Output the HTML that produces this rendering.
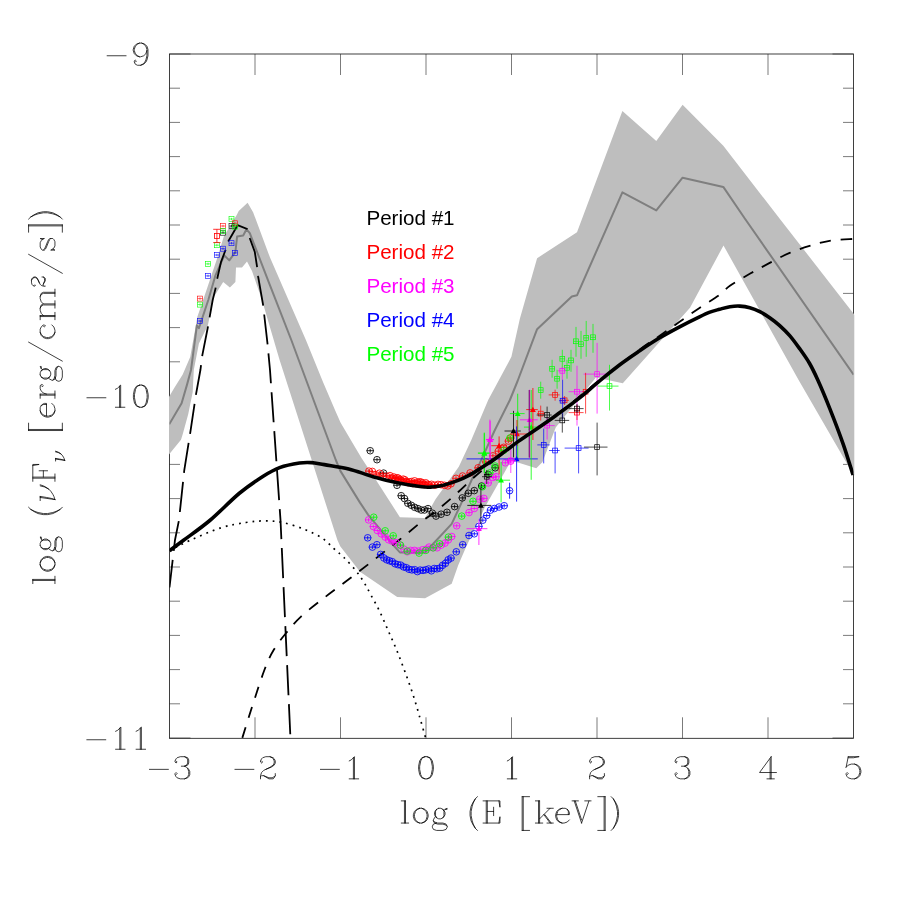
<!DOCTYPE html>
<html><head><meta charset="utf-8"><title>SED</title>
<style>
html,body{margin:0;padding:0;background:#fff;}
svg{display:block;}
.ser{font-family:"Liberation Serif",serif;font-size:33px;fill:#444;}
.leg{font-family:"Liberation Sans",sans-serif;font-size:20.6px;}
</style></head><body>
<svg width="913" height="903" viewBox="0 0 913 903">
<rect width="913" height="903" fill="#fff"/>
<defs><clipPath id="cp"><rect x="169.5" y="54.0" width="684.0" height="684.3"/></clipPath>
<filter id="idf" x="0" y="0" width="913" height="903" filterUnits="userSpaceOnUse"><feOffset dx="0" dy="0"/></filter>
<clipPath id="cb"><rect x="169" y="53" width="685.3" height="686"/></clipPath></defs>
<rect x="169.5" y="54.0" width="684.0" height="684.3" fill="none" stroke="#111" stroke-width="0.8"/>
<path d="M255.00,738.3V717.3M255.00,54.0V75.0M340.50,738.3V717.3M340.50,54.0V75.0M426.00,738.3V717.3M426.00,54.0V75.0M511.50,738.3V717.3M511.50,54.0V75.0M597.00,738.3V717.3M597.00,54.0V75.0M682.50,738.3V717.3M682.50,54.0V75.0M768.00,738.3V717.3M768.00,54.0V75.0M169.5,54.00H190.5M853.5,54.00H832.5M169.5,88.20H180.0M853.5,88.20H843.0M169.5,122.40H180.0M853.5,122.40H843.0M169.5,156.60H180.0M853.5,156.60H843.0M169.5,190.80H180.0M853.5,190.80H843.0M169.5,225.00H180.0M853.5,225.00H843.0M169.5,259.20H180.0M853.5,259.20H843.0M169.5,293.40H180.0M853.5,293.40H843.0M169.5,327.60H180.0M853.5,327.60H843.0M169.5,361.80H180.0M853.5,361.80H843.0M169.5,396.00H190.5M853.5,396.00H832.5M169.5,430.20H180.0M853.5,430.20H843.0M169.5,464.40H180.0M853.5,464.40H843.0M169.5,498.60H180.0M853.5,498.60H843.0M169.5,532.80H180.0M853.5,532.80H843.0M169.5,567.00H180.0M853.5,567.00H843.0M169.5,601.20H180.0M853.5,601.20H843.0M169.5,635.40H180.0M853.5,635.40H843.0M169.5,669.60H180.0M853.5,669.60H843.0M169.5,703.80H180.0M853.5,703.80H843.0M169.5,738.00H190.5M853.5,738.00H832.5" stroke="#222" stroke-width="0.6" fill="none"/>
<g clip-path="url(#cb)"><polygon points="168.0,398.5 169.2,396.6 174.4,387.7 182.7,374.4 190.2,357.0 197.4,316.7 207.7,286.4 217.6,257.0 223.8,236.5 237.0,214.4 238.7,211.0 247.6,202.8 253.1,212.2 270.0,257.6 305.9,340.0 323.2,382.5 335.2,410.4 340.5,422.4 351.1,440.5 361.8,458.5 376.0,480.0 399.9,517.2 425.1,517.9 435.5,499.2 458.8,466.7 471.2,440.3 488.2,400.0 511.4,356.8 519.8,318.9 537.1,258.2 577.0,232.3 622.4,111.1 656.3,141.0 682.6,104.7 723.3,145.8 780.7,220.0 855.0,315.4 855.0,476.0 852.4,473.0 798.6,380.0 723.5,245.5 690.0,307.7 622.8,383.2 595.9,377.6 555.7,427.6 542.5,462.0 536.3,468.2 511.5,460.5 506.8,468.2 485.0,507.0 466.3,546.4 458.3,565.0 451.7,583.7 425.1,598.3 397.2,596.9 360.0,571.7 340.2,546.2 337.4,540.0 279.6,360.0 262.0,300.0 252.0,270.9 247.0,261.5 242.0,267.6 236.0,267.6 235.4,282.0 229.9,287.5 223.2,282.0 213.8,297.0 207.8,325.5 198.9,343.5 193.8,370.0 192.7,392.1 188.2,414.3 182.7,434.2 181.0,439.8 169.2,454.2 168.0,455.5" fill="#bebebe"/></g>
<g clip-path="url(#cp)">
<polyline points="169.2,424.3 181.6,403.2 187.1,384.4 191.0,370.0 196.9,325.3 198.9,328.2 208.3,300.0 215.5,275.3 224.3,255.4 229.3,260.4 235.4,252.0 237.1,236.5 243.2,235.4 246.5,229.3 249.8,233.2 270.0,285.3 291.3,340.0 335.8,460.0 340.2,470.6 360.0,502.6 368.0,514.6 393.2,545.1 399.9,552.4 425.0,552.4 434.4,542.5 451.7,523.9 461.0,503.9 471.6,480.0 478.9,465.1 494.4,431.0 509.9,400.0 517.6,381.0 537.1,329.2 571.8,296.5 577.0,295.3 622.4,192.4 656.3,210.4 682.6,177.7 723.3,186.9 744.8,218.5 853.6,374.7" fill="none" stroke="#7f7f7f" stroke-width="2" stroke-linejoin="round"/>
<path d="M169.5,550.7 C173.0,548.9 182.1,543.8 190.7,540.0 C199.3,536.2 212.1,530.6 221.3,527.7 C230.5,524.8 238.7,523.6 245.9,522.5 C253.1,521.4 258.2,520.9 264.3,520.9 C270.4,520.9 276.1,521.1 282.7,522.5 C289.3,523.9 297.5,526.6 304.1,529.2 C310.7,531.8 317.4,535.0 322.4,538.3 C327.4,541.6 330.7,545.8 334.3,549.0 C337.9,552.2 340.2,553.8 343.8,557.4 C347.4,561.0 352.3,566.3 355.7,570.5 C359.1,574.7 361.4,578.2 364.0,582.4 C366.6,586.6 368.6,590.7 371.2,595.5 C373.8,600.3 376.7,605.2 379.5,611.0 C382.3,616.8 385.1,623.7 387.9,630.0 C390.7,636.3 393.4,642.2 396.2,649.0 C399.0,655.8 401.7,663.0 404.5,670.5 C407.3,678.0 410.3,686.4 412.9,694.3 C415.5,702.2 417.9,710.8 420.0,718.1 C422.1,725.4 424.8,734.9 425.7,738.3" fill="none" stroke="#000" stroke-width="1.7" stroke-dasharray="1.8 5.0"/>
<path d="M242.2,738.3 C243.8,733.1 248.3,718.3 252.0,707.0 C255.7,695.7 260.7,679.8 264.3,670.3 C267.9,660.8 269.9,656.4 273.5,650.3 C277.1,644.2 281.1,639.1 285.7,633.5 C290.3,627.9 294.4,622.7 301.0,616.6 C307.6,610.5 317.4,603.1 325.6,596.7 C333.8,590.3 341.9,584.5 350.1,578.3 C358.3,572.1 366.5,565.7 374.7,559.3 C382.9,552.9 391.0,546.5 399.2,540.0 C407.4,533.5 417.5,524.9 423.7,520.0 C429.9,515.1 430.6,515.5 436.4,510.8 C442.2,506.1 452.1,497.6 458.3,492.0 C464.5,486.4 467.6,483.0 473.8,477.5 C480.0,472.0 488.4,464.9 495.7,459.0 C503.0,453.1 512.1,446.1 517.6,442.0 C523.1,437.9 521.8,439.2 528.9,434.2 C536.0,429.2 548.2,421.0 560.0,412.0 C571.8,403.0 586.6,390.4 599.9,380.0 C613.2,369.6 629.7,356.9 639.7,349.5 C649.7,342.1 653.1,340.4 659.7,335.8 C666.4,331.2 673.0,326.5 679.6,321.8 C686.2,317.1 692.9,312.4 699.5,307.9 C706.1,303.4 714.4,298.6 719.5,294.9 C724.6,291.2 724.9,289.3 729.9,285.8 C734.9,282.3 743.2,277.6 749.8,273.8 C756.4,270.0 763.1,266.4 769.7,262.9 C776.4,259.4 783.1,255.7 789.7,252.9 C796.4,250.1 803.0,247.9 809.6,245.9 C816.2,243.9 822.2,242.1 829.5,240.9 C836.8,239.7 849.4,239.2 853.4,238.9" fill="none" stroke="#000" stroke-width="1.8" stroke-dasharray="11.3 9.75" stroke-dashoffset="-0.5"/>
<polyline points="228.2,241.5 226.0,248.7 221.0,262.0 217.1,279.2 215.5,288.6 212.7,300.0 207.8,327.5 202.3,355.4 200.4,370.0 196.0,394.4 190.2,433.1 184.3,470.0 179.0,520.0 175.0,540.0 169.5,587.5" fill="none" stroke="#000" stroke-width="1.8" stroke-dasharray="30.3 9.1" stroke-dashoffset="30.8"/>
<polyline points="228.2,241.5 237.6,225.2 247.0,229.0 249.8,238.2 254.8,252.0 257.0,266.4 258.1,276.4 263.1,305.0 267.6,344.5 270.0,370.0 280.5,520.0 290.3,734.7 290.5,738.3" fill="none" stroke="#000" stroke-width="1.8" stroke-dasharray="30.1 8.95" stroke-dashoffset="0.7"/>
<g stroke="#00ff00" stroke-width="0.6" fill="none"><rect x="229.0" y="216.5" width="5.0" height="5.0"/><path d="M229.0,219.0H234.0M231.5,217.8V220.2"/></g>
<g stroke="#ff0000" stroke-width="0.6" fill="none"><rect x="232.4" y="220.8" width="5.0" height="5.0"/><path d="M232.4,223.3H237.4M234.9,222.1V224.5"/></g>
<g stroke="#000" stroke-width="0.6" fill="none"><rect x="229.0" y="223.5" width="5.0" height="5.0"/><path d="M229.0,226.0H234.0M231.5,224.8V227.2"/></g>
<g stroke="#00ff00" stroke-width="0.6" fill="none"><rect x="232.4" y="224.1" width="5.0" height="5.0"/><path d="M232.4,226.6H237.4M234.9,225.4V227.8"/></g>
<g stroke="#ff0000" stroke-width="0.6" fill="none"><rect x="220.5" y="223.5" width="5.0" height="5.0"/><path d="M220.5,226.0H225.5M223.0,224.8V227.2"/></g>
<g stroke="#000" stroke-width="0.6" fill="none"><rect x="220.5" y="230.2" width="5.0" height="5.0"/><path d="M220.5,232.7H225.5M223.0,231.5V233.9"/></g>
<g stroke="#00ff00" stroke-width="0.6" fill="none"><rect x="220.5" y="228.5" width="5.0" height="5.0"/><path d="M220.5,231.0H225.5M223.0,229.8V232.2"/></g>
<g stroke="#00ff00" stroke-width="0.6" fill="none"><rect x="214.4" y="242.7" width="5.0" height="5.0"/><path d="M214.4,245.2H219.4M216.9,244.0V246.4"/></g>
<g stroke="#0000ff" stroke-width="0.6" fill="none"><rect x="229.0" y="240.7" width="5.0" height="5.0"/><path d="M229.0,243.2H234.0M231.5,242.0V244.4"/></g>
<g stroke="#0000ff" stroke-width="0.6" fill="none"><rect x="220.5" y="246.2" width="5.0" height="5.0"/><path d="M220.5,248.7H225.5M223.0,247.5V249.9"/></g>
<g stroke="#0000ff" stroke-width="0.6" fill="none"><rect x="232.4" y="250.4" width="5.0" height="5.0"/><path d="M232.4,252.9H237.4M234.9,251.7V254.1"/></g>
<g stroke="#0000ff" stroke-width="0.6" fill="none"><rect x="214.4" y="252.5" width="5.0" height="5.0"/><path d="M214.4,255.0H219.4M216.9,253.8V256.2"/></g>
<g stroke="#00ff00" stroke-width="0.6" fill="none"><rect x="205.5" y="261.4" width="5.0" height="5.0"/><path d="M205.5,263.9H210.5M208.0,262.7V265.1"/></g>
<g stroke="#0000ff" stroke-width="0.6" fill="none"><rect x="205.5" y="273.4" width="5.0" height="5.0"/><path d="M205.5,275.9H210.5M208.0,274.7V277.1"/></g>
<g stroke="#ff0000" stroke-width="0.6" fill="none"><rect x="197.5" y="296.1" width="5.0" height="5.0"/><path d="M197.5,298.6H202.5M200.0,297.4V299.8"/></g>
<g stroke="#00ff00" stroke-width="0.6" fill="none"><rect x="197.5" y="302.1" width="5.0" height="5.0"/><path d="M197.5,304.6H202.5M200.0,303.4V305.8"/></g>
<g stroke="#0000ff" stroke-width="0.6" fill="none"><rect x="197.5" y="318.5" width="5.0" height="5.0"/><path d="M197.5,321.0H202.5M200.0,319.8V322.2"/></g>
<g stroke="#ff0000" stroke-width="0.8" fill="none"><rect x="214.4" y="233.5" width="5" height="5"/><path d="M213.2,229.3H220.5M213.2,242.6H220.5M216.9,229.3V242.6"/></g>
<g stroke="#000" stroke-width="0.85" fill="none"><circle cx="370.2" cy="450.7" r="3.3"/><path d="M366.6,450.7H373.8M370.2,448.7V452.7"/></g>
<g stroke="#000" stroke-width="0.85" fill="none"><circle cx="377.0" cy="459.7" r="3.3"/><path d="M373.4,459.7H380.6M377.0,457.7V461.7"/></g>
<g stroke="#000" stroke-width="0.85" fill="none"><circle cx="383.6" cy="473.1" r="3.3"/><path d="M380.0,473.1H387.2M383.6,471.1V475.1"/></g>
<g stroke="#000" stroke-width="0.85" fill="none"><circle cx="397.0" cy="485.3" r="3.3"/><path d="M393.4,485.3H400.6M397.0,483.3V487.3"/></g>
<g stroke="#000" stroke-width="0.85" fill="none"><circle cx="401.2" cy="495.7" r="3.3"/><path d="M397.6,495.7H404.8M401.2,493.7V497.7"/></g>
<g stroke="#000" stroke-width="0.85" fill="none"><circle cx="404.5" cy="498.6" r="3.3"/><path d="M400.9,498.6H408.1M404.5,496.6V500.6"/></g>
<g stroke="#000" stroke-width="0.85" fill="none"><circle cx="407.8" cy="503.3" r="3.3"/><path d="M404.2,503.3H411.4M407.8,501.3V505.3"/></g>
<g stroke="#000" stroke-width="0.85" fill="none"><circle cx="411.3" cy="505.3" r="3.3"/><path d="M407.7,505.3H414.9M411.3,503.3V507.3"/></g>
<g stroke="#000" stroke-width="0.85" fill="none"><circle cx="414.6" cy="507.3" r="3.3"/><path d="M411.0,507.3H418.2M414.6,505.3V509.3"/></g>
<g stroke="#000" stroke-width="0.85" fill="none"><circle cx="418.0" cy="508.6" r="3.3"/><path d="M414.4,508.6H421.6M418.0,506.6V510.6"/></g>
<g stroke="#000" stroke-width="0.85" fill="none"><circle cx="421.2" cy="510.0" r="3.3"/><path d="M417.6,510.0H424.8M421.2,508.0V512.0"/></g>
<g stroke="#000" stroke-width="0.85" fill="none"><circle cx="424.5" cy="510.0" r="3.3"/><path d="M420.9,510.0H428.1M424.5,508.0V512.0"/></g>
<g stroke="#000" stroke-width="0.85" fill="none"><circle cx="428.0" cy="508.6" r="3.3"/><path d="M424.4,508.6H431.6M428.0,506.6V510.6"/></g>
<g stroke="#000" stroke-width="0.85" fill="none"><circle cx="432.4" cy="513.2" r="3.3"/><path d="M428.8,513.2H436.0M432.4,511.2V515.2"/></g>
<g stroke="#000" stroke-width="0.85" fill="none"><circle cx="436.0" cy="516.1" r="3.3"/><path d="M432.4,516.1H439.6M436.0,514.1V518.1"/></g>
<g stroke="#000" stroke-width="0.85" fill="none"><circle cx="441.1" cy="514.2" r="3.3"/><path d="M437.5,514.2H444.7M441.1,512.2V516.2"/></g>
<g stroke="#000" stroke-width="0.85" fill="none"><circle cx="447.0" cy="512.3" r="3.3"/><path d="M443.4,512.3H450.6M447.0,510.3V514.3"/></g>
<g stroke="#000" stroke-width="0.85" fill="none"><circle cx="454.6" cy="506.6" r="3.3"/><path d="M451.0,506.6H458.2M454.6,504.6V508.6"/></g>
<g stroke="#000" stroke-width="0.85" fill="none"><circle cx="462.3" cy="497.9" r="3.3"/><path d="M458.7,497.9H465.9M462.3,495.9V499.9"/></g>
<g stroke="#000" stroke-width="0.85" fill="none"><circle cx="468.3" cy="493.3" r="3.3"/><path d="M464.7,493.3H471.9M468.3,491.3V495.3"/></g>
<g stroke="#000" stroke-width="0.85" fill="none"><circle cx="474.3" cy="490.6" r="3.3"/><path d="M470.7,490.6H477.9M474.3,488.6V492.6"/></g>
<g stroke="#000" stroke-width="0.85" fill="none"><circle cx="481.6" cy="486.0" r="3.3"/><path d="M478.0,486.0H485.2M481.6,484.0V488.0"/></g>
<g stroke="#000" stroke-width="0.85" fill="none"><circle cx="488.2" cy="474.4" r="3.3"/><path d="M484.6,474.4H491.8M488.2,472.4V476.4"/></g>
<g stroke="#000" stroke-width="0.85" fill="none"><circle cx="495.2" cy="467.8" r="3.3"/><path d="M491.6,467.8H498.8M495.2,465.8V469.8"/></g>
<g stroke="#ff0000" stroke-width="0.85" fill="none"><circle cx="368.9" cy="471.1" r="3.3"/><path d="M365.3,471.1H372.5M368.9,469.1V473.1"/></g>
<g stroke="#ff0000" stroke-width="0.85" fill="none"><circle cx="372.4" cy="471.4" r="3.3"/><path d="M368.8,471.4H376.0M372.4,469.4V473.4"/></g>
<g stroke="#ff0000" stroke-width="0.85" fill="none"><circle cx="375.9" cy="474.8" r="3.3"/><path d="M372.3,474.8H379.5M375.9,472.8V476.8"/></g>
<g stroke="#ff0000" stroke-width="0.85" fill="none"><circle cx="379.4" cy="473.2" r="3.3"/><path d="M375.8,473.2H383.1M379.4,471.2V475.2"/></g>
<g stroke="#ff0000" stroke-width="0.85" fill="none"><circle cx="383.0" cy="476.2" r="3.3"/><path d="M379.4,476.2H386.6M383.0,474.2V478.2"/></g>
<g stroke="#ff0000" stroke-width="0.85" fill="none"><circle cx="386.5" cy="476.2" r="3.3"/><path d="M382.9,476.2H390.1M386.5,474.2V478.2"/></g>
<g stroke="#ff0000" stroke-width="0.85" fill="none"><circle cx="390.0" cy="475.6" r="3.3"/><path d="M386.4,475.6H393.6M390.0,473.6V477.6"/></g>
<g stroke="#ff0000" stroke-width="0.85" fill="none"><circle cx="392.0" cy="478.0" r="3.3"/><path d="M388.4,478.0H395.6M392.0,476.0V480.0"/></g>
<g stroke="#ff0000" stroke-width="0.85" fill="none"><circle cx="393.6" cy="476.9" r="3.3"/><path d="M390.0,476.9H397.2M393.6,474.9V478.9"/></g>
<g stroke="#ff0000" stroke-width="0.85" fill="none"><circle cx="395.2" cy="478.5" r="3.3"/><path d="M391.6,478.5H398.8M395.2,476.5V480.5"/></g>
<g stroke="#ff0000" stroke-width="0.85" fill="none"><circle cx="396.8" cy="477.7" r="3.3"/><path d="M393.2,477.7H400.4M396.8,475.7V479.7"/></g>
<g stroke="#ff0000" stroke-width="0.85" fill="none"><circle cx="398.4" cy="478.1" r="3.3"/><path d="M394.8,478.1H402.0M398.4,476.1V480.1"/></g>
<g stroke="#ff0000" stroke-width="0.85" fill="none"><circle cx="400.0" cy="479.5" r="3.3"/><path d="M396.4,479.5H403.6M400.0,477.5V481.5"/></g>
<g stroke="#ff0000" stroke-width="0.85" fill="none"><circle cx="401.7" cy="481.1" r="3.3"/><path d="M398.1,481.1H405.3M401.7,479.1V483.1"/></g>
<g stroke="#ff0000" stroke-width="0.85" fill="none"><circle cx="403.3" cy="479.1" r="3.3"/><path d="M399.7,479.1H406.9M403.3,477.1V481.1"/></g>
<g stroke="#ff0000" stroke-width="0.85" fill="none"><circle cx="404.9" cy="479.8" r="3.3"/><path d="M401.3,479.8H408.5M404.9,477.8V481.8"/></g>
<g stroke="#ff0000" stroke-width="0.85" fill="none"><circle cx="406.5" cy="481.4" r="3.3"/><path d="M402.9,481.4H410.1M406.5,479.4V483.4"/></g>
<g stroke="#ff0000" stroke-width="0.85" fill="none"><circle cx="408.1" cy="482.7" r="3.3"/><path d="M404.5,482.7H411.7M408.1,480.7V484.7"/></g>
<g stroke="#ff0000" stroke-width="0.85" fill="none"><circle cx="409.7" cy="481.9" r="3.3"/><path d="M406.1,481.9H413.3M409.7,479.9V483.9"/></g>
<g stroke="#ff0000" stroke-width="0.85" fill="none"><circle cx="411.3" cy="481.5" r="3.3"/><path d="M407.7,481.5H414.9M411.3,479.5V483.5"/></g>
<g stroke="#ff0000" stroke-width="0.85" fill="none"><circle cx="412.9" cy="483.6" r="3.3"/><path d="M409.3,483.6H416.5M412.9,481.6V485.6"/></g>
<g stroke="#ff0000" stroke-width="0.85" fill="none"><circle cx="414.5" cy="480.8" r="3.3"/><path d="M410.9,480.8H418.1M414.5,478.8V482.8"/></g>
<g stroke="#ff0000" stroke-width="0.85" fill="none"><circle cx="416.1" cy="483.7" r="3.3"/><path d="M412.5,483.7H419.7M416.1,481.7V485.7"/></g>
<g stroke="#ff0000" stroke-width="0.85" fill="none"><circle cx="417.7" cy="482.1" r="3.3"/><path d="M414.1,482.1H421.3M417.7,480.1V484.1"/></g>
<g stroke="#ff0000" stroke-width="0.85" fill="none"><circle cx="419.3" cy="481.8" r="3.3"/><path d="M415.7,481.8H422.9M419.3,479.8V483.8"/></g>
<g stroke="#ff0000" stroke-width="0.85" fill="none"><circle cx="421.0" cy="482.0" r="3.3"/><path d="M417.4,482.0H424.6M421.0,480.0V484.0"/></g>
<g stroke="#ff0000" stroke-width="0.85" fill="none"><circle cx="422.6" cy="482.8" r="3.3"/><path d="M419.0,482.8H426.2M422.6,480.8V484.8"/></g>
<g stroke="#ff0000" stroke-width="0.85" fill="none"><circle cx="424.2" cy="484.6" r="3.3"/><path d="M420.6,484.6H427.8M424.2,482.6V486.6"/></g>
<g stroke="#ff0000" stroke-width="0.85" fill="none"><circle cx="425.8" cy="482.8" r="3.3"/><path d="M422.2,482.8H429.4M425.8,480.8V484.8"/></g>
<g stroke="#ff0000" stroke-width="0.85" fill="none"><circle cx="427.4" cy="484.3" r="3.3"/><path d="M423.8,484.3H431.0M427.4,482.3V486.3"/></g>
<g stroke="#ff0000" stroke-width="0.85" fill="none"><circle cx="429.0" cy="484.7" r="3.3"/><path d="M425.4,484.7H432.6M429.0,482.7V486.7"/></g>
<g stroke="#ff0000" stroke-width="0.85" fill="none"><circle cx="431.5" cy="484.3" r="3.3"/><path d="M427.9,484.3H435.1M431.5,482.3V486.3"/></g>
<g stroke="#ff0000" stroke-width="0.85" fill="none"><circle cx="434.8" cy="485.2" r="3.3"/><path d="M431.1,485.2H438.4M434.8,483.2V487.2"/></g>
<g stroke="#ff0000" stroke-width="0.85" fill="none"><circle cx="438.0" cy="484.4" r="3.3"/><path d="M434.4,484.4H441.6M438.0,482.4V486.4"/></g>
<g stroke="#ff0000" stroke-width="0.85" fill="none"><circle cx="441.2" cy="484.7" r="3.3"/><path d="M437.6,484.7H444.9M441.2,482.7V486.7"/></g>
<g stroke="#ff0000" stroke-width="0.85" fill="none"><circle cx="444.5" cy="485.3" r="3.3"/><path d="M440.9,485.3H448.1M444.5,483.3V487.3"/></g>
<g stroke="#ff0000" stroke-width="0.85" fill="none"><circle cx="447.8" cy="485.9" r="3.3"/><path d="M444.1,485.9H451.4M447.8,483.9V487.9"/></g>
<g stroke="#ff0000" stroke-width="0.85" fill="none"><circle cx="451.0" cy="483.8" r="3.3"/><path d="M447.4,483.8H454.6M451.0,481.8V485.8"/></g>
<g stroke="#ff0000" stroke-width="0.85" fill="none"><circle cx="456.0" cy="478.3" r="3.3"/><path d="M452.4,478.3H459.6M456.0,476.3V480.3"/></g>
<g stroke="#ff0000" stroke-width="0.85" fill="none"><circle cx="462.6" cy="476.0" r="3.3"/><path d="M459.0,476.0H466.2M462.6,474.0V478.0"/></g>
<g stroke="#ff0000" stroke-width="0.85" fill="none"><circle cx="470.1" cy="472.9" r="3.3"/><path d="M466.5,472.9H473.7M470.1,470.9V474.9"/></g>
<g stroke="#ff0000" stroke-width="0.85" fill="none"><circle cx="478.1" cy="467.8" r="3.3"/><path d="M474.5,467.8H481.7M478.1,465.8V469.8"/></g>
<g stroke="#ff0000" stroke-width="0.85" fill="none"><circle cx="485.9" cy="462.0" r="3.3"/><path d="M482.3,462.0H489.5M485.9,460.0V464.0"/></g>
<g stroke="#ff0000" stroke-width="0.85" fill="none"><circle cx="492.9" cy="455.8" r="3.3"/><path d="M489.3,455.8H496.5M492.9,453.8V457.8"/></g>
<g stroke="#ff0000" stroke-width="0.85" fill="none"><circle cx="498.3" cy="451.2" r="3.3"/><path d="M494.7,451.2H501.9M498.3,449.2V453.2"/></g>
<g stroke="#ff0000" stroke-width="0.85" fill="none"><circle cx="503.7" cy="447.3" r="3.3"/><path d="M500.1,447.3H507.3M503.7,445.3V449.3"/></g>
<g stroke="#ff0000" stroke-width="0.85" fill="none"><circle cx="508.4" cy="441.1" r="3.3"/><path d="M504.8,441.1H512.0M508.4,439.1V443.1"/></g>
<g stroke="#ff0000" stroke-width="0.85" fill="none"><circle cx="510.7" cy="438.0" r="3.3"/><path d="M507.1,438.0H514.3M510.7,436.0V440.0"/></g>
<g stroke="#ff00ff" stroke-width="0.85" fill="none"><circle cx="368.6" cy="519.9" r="3.3"/><path d="M365.0,519.9H372.2M368.6,517.9V521.9"/></g>
<g stroke="#ff00ff" stroke-width="0.85" fill="none"><circle cx="373.3" cy="526.5" r="3.3"/><path d="M369.7,526.5H376.9M373.3,524.5V528.5"/></g>
<g stroke="#ff00ff" stroke-width="0.85" fill="none"><circle cx="377.3" cy="530.5" r="3.3"/><path d="M373.7,530.5H380.9M377.3,528.5V532.5"/></g>
<g stroke="#ff00ff" stroke-width="0.85" fill="none"><circle cx="381.3" cy="533.8" r="3.3"/><path d="M377.7,533.8H384.9M381.3,531.8V535.8"/></g>
<g stroke="#ff00ff" stroke-width="0.85" fill="none"><circle cx="385.2" cy="537.1" r="3.3"/><path d="M381.6,537.1H388.8M385.2,535.1V539.1"/></g>
<g stroke="#ff00ff" stroke-width="0.85" fill="none"><circle cx="388.6" cy="539.8" r="3.3"/><path d="M385.0,539.8H392.2M388.6,537.8V541.8"/></g>
<g stroke="#ff00ff" stroke-width="0.85" fill="none"><circle cx="391.9" cy="541.1" r="3.3"/><path d="M388.3,541.1H395.5M391.9,539.1V543.1"/></g>
<g stroke="#ff00ff" stroke-width="0.85" fill="none"><circle cx="395.9" cy="542.5" r="3.3"/><path d="M392.3,542.5H399.5M395.9,540.5V544.5"/></g>
<g stroke="#ff00ff" stroke-width="0.85" fill="none"><circle cx="399.9" cy="545.1" r="3.3"/><path d="M396.3,545.1H403.5M399.9,543.1V547.1"/></g>
<g stroke="#ff00ff" stroke-width="0.85" fill="none"><circle cx="403.9" cy="549.1" r="3.3"/><path d="M400.3,549.1H407.5M403.9,547.1V551.1"/></g>
<g stroke="#ff00ff" stroke-width="0.85" fill="none"><circle cx="407.2" cy="551.8" r="3.3"/><path d="M403.6,551.8H410.8M407.2,549.8V553.8"/></g>
<g stroke="#ff00ff" stroke-width="0.85" fill="none"><circle cx="410.5" cy="550.4" r="3.3"/><path d="M406.9,550.4H414.1M410.5,548.4V552.4"/></g>
<g stroke="#ff00ff" stroke-width="0.85" fill="none"><circle cx="414.5" cy="550.4" r="3.3"/><path d="M410.9,550.4H418.1M414.5,548.4V552.4"/></g>
<g stroke="#ff00ff" stroke-width="0.85" fill="none"><circle cx="418.5" cy="551.1" r="3.3"/><path d="M414.9,551.1H422.1M418.5,549.1V553.1"/></g>
<g stroke="#ff00ff" stroke-width="0.85" fill="none"><circle cx="422.5" cy="549.8" r="3.3"/><path d="M418.9,549.8H426.1M422.5,547.8V551.8"/></g>
<g stroke="#ff00ff" stroke-width="0.85" fill="none"><circle cx="426.4" cy="549.1" r="3.3"/><path d="M422.8,549.1H430.0M426.4,547.1V551.1"/></g>
<g stroke="#ff00ff" stroke-width="0.85" fill="none"><circle cx="429.1" cy="547.1" r="3.3"/><path d="M425.5,547.1H432.7M429.1,545.1V549.1"/></g>
<g stroke="#ff00ff" stroke-width="0.85" fill="none"><circle cx="433.1" cy="547.8" r="3.3"/><path d="M429.5,547.8H436.7M433.1,545.8V549.8"/></g>
<g stroke="#ff00ff" stroke-width="0.85" fill="none"><circle cx="437.1" cy="547.8" r="3.3"/><path d="M433.5,547.8H440.7M437.1,545.8V549.8"/></g>
<g stroke="#ff00ff" stroke-width="0.85" fill="none"><circle cx="441.1" cy="545.1" r="3.3"/><path d="M437.5,545.1H444.7M441.1,543.1V547.1"/></g>
<g stroke="#ff00ff" stroke-width="0.85" fill="none"><circle cx="445.0" cy="543.1" r="3.3"/><path d="M441.4,543.1H448.6M445.0,541.1V545.1"/></g>
<g stroke="#ff00ff" stroke-width="0.85" fill="none"><circle cx="448.4" cy="539.8" r="3.3"/><path d="M444.8,539.8H452.0M448.4,537.8V541.8"/></g>
<g stroke="#ff00ff" stroke-width="0.85" fill="none"><circle cx="451.7" cy="536.5" r="3.3"/><path d="M448.1,536.5H455.3M451.7,534.5V538.5"/></g>
<g stroke="#ff00ff" stroke-width="0.85" fill="none"><circle cx="456.7" cy="525.8" r="3.3"/><path d="M453.1,525.8H460.3M456.7,523.8V527.8"/></g>
<g stroke="#ff00ff" stroke-width="0.85" fill="none"><circle cx="469.0" cy="512.6" r="3.3"/><path d="M465.4,512.6H472.6M469.0,510.6V514.6"/></g>
<g stroke="#ff00ff" stroke-width="0.85" fill="none"><circle cx="474.3" cy="508.5" r="3.3"/><path d="M470.7,508.5H477.9M474.3,506.5V510.5"/></g>
<g stroke="#ff00ff" stroke-width="0.85" fill="none"><circle cx="479.7" cy="499.2" r="3.3"/><path d="M476.1,499.2H483.3M479.7,497.2V501.2"/></g>
<g stroke="#ff00ff" stroke-width="0.85" fill="none"><circle cx="483.9" cy="498.4" r="3.3"/><path d="M480.3,498.4H487.5M483.9,496.4V500.4"/></g>
<g stroke="#ff00ff" stroke-width="0.85" fill="none"><circle cx="488.2" cy="482.9" r="3.3"/><path d="M484.6,482.9H491.8M488.2,480.9V484.9"/></g>
<g stroke="#ff00ff" stroke-width="0.85" fill="none"><circle cx="492.9" cy="477.5" r="3.3"/><path d="M489.3,477.5H496.5M492.9,475.5V479.5"/></g>
<g stroke="#ff00ff" stroke-width="0.85" fill="none"><circle cx="496.0" cy="476.7" r="3.3"/><path d="M492.4,476.7H499.6M496.0,474.7V478.7"/></g>
<g stroke="#ff00ff" stroke-width="0.85" fill="none"><circle cx="505.3" cy="462.8" r="3.3"/><path d="M501.7,462.8H508.9M505.3,460.8V464.8"/></g>
<g stroke="#ff00ff" stroke-width="0.85" fill="none"><circle cx="510.7" cy="461.2" r="3.3"/><path d="M507.1,461.2H514.3M510.7,459.2V463.2"/></g>
<g stroke="#00ff00" stroke-width="0.85" fill="none"><circle cx="373.7" cy="517.2" r="3.3"/><path d="M370.1,517.2H377.3M373.7,515.2V519.2"/></g>
<g stroke="#00ff00" stroke-width="0.85" fill="none"><circle cx="385.2" cy="530.8" r="3.3"/><path d="M381.6,530.8H388.8M385.2,528.8V532.8"/></g>
<g stroke="#00ff00" stroke-width="0.85" fill="none"><circle cx="393.2" cy="535.8" r="3.3"/><path d="M389.6,535.8H396.8M393.2,533.8V537.8"/></g>
<g stroke="#00ff00" stroke-width="0.85" fill="none"><circle cx="400.5" cy="545.1" r="3.3"/><path d="M396.9,545.1H404.1M400.5,543.1V547.1"/></g>
<g stroke="#00ff00" stroke-width="0.85" fill="none"><circle cx="407.2" cy="551.1" r="3.3"/><path d="M403.6,551.1H410.8M407.2,549.1V553.1"/></g>
<g stroke="#00ff00" stroke-width="0.85" fill="none"><circle cx="419.1" cy="553.1" r="3.3"/><path d="M415.5,553.1H422.7M419.1,551.1V555.1"/></g>
<g stroke="#00ff00" stroke-width="0.85" fill="none"><circle cx="425.8" cy="550.4" r="3.3"/><path d="M422.2,550.4H429.4M425.8,548.4V552.4"/></g>
<g stroke="#00ff00" stroke-width="0.85" fill="none"><circle cx="433.1" cy="547.8" r="3.3"/><path d="M429.5,547.8H436.7M433.1,545.8V549.8"/></g>
<g stroke="#00ff00" stroke-width="0.85" fill="none"><circle cx="439.7" cy="543.8" r="3.3"/><path d="M436.1,543.8H443.3M439.7,541.8V545.8"/></g>
<g stroke="#00ff00" stroke-width="0.85" fill="none"><circle cx="448.4" cy="537.1" r="3.3"/><path d="M444.8,537.1H452.0M448.4,535.1V539.1"/></g>
<g stroke="#00ff00" stroke-width="0.85" fill="none"><circle cx="461.7" cy="516.1" r="3.3"/><path d="M458.1,516.1H465.3M461.7,514.1V518.1"/></g>
<g stroke="#00ff00" stroke-width="0.85" fill="none"><circle cx="473.0" cy="501.3" r="3.3"/><path d="M469.4,501.3H476.6M473.0,499.3V503.3"/></g>
<g stroke="#00ff00" stroke-width="0.85" fill="none"><circle cx="482.5" cy="486.8" r="3.3"/><path d="M478.9,486.8H486.1M482.5,484.8V488.8"/></g>
<g stroke="#00ff00" stroke-width="0.85" fill="none"><circle cx="489.8" cy="472.9" r="3.3"/><path d="M486.2,472.9H493.4M489.8,470.9V474.9"/></g>
<g stroke="#00ff00" stroke-width="0.85" fill="none"><circle cx="495.0" cy="466.0" r="3.3"/><path d="M491.4,466.0H498.6M495.0,464.0V468.0"/></g>
<g stroke="#00ff00" stroke-width="0.85" fill="none"><circle cx="503.7" cy="450.4" r="3.3"/><path d="M500.1,450.4H507.3M503.7,448.4V452.4"/></g>
<g stroke="#00ff00" stroke-width="0.85" fill="none"><circle cx="509.9" cy="438.0" r="3.3"/><path d="M506.3,438.0H513.5M509.9,436.0V440.0"/></g>
<g stroke="#0000ff" stroke-width="0.85" fill="none"><circle cx="367.7" cy="537.8" r="3.3"/><path d="M364.1,537.8H371.3M367.7,535.8V539.8"/></g>
<g stroke="#0000ff" stroke-width="0.85" fill="none"><circle cx="372.4" cy="547.1" r="3.3"/><path d="M368.8,547.1H376.0M372.4,545.1V549.1"/></g>
<g stroke="#0000ff" stroke-width="0.85" fill="none"><circle cx="376.9" cy="544.7" r="3.3"/><path d="M373.3,544.7H380.5M376.9,542.7V546.7"/></g>
<g stroke="#0000ff" stroke-width="0.85" fill="none"><circle cx="380.6" cy="554.4" r="3.3"/><path d="M377.0,554.4H384.2M380.6,552.4V556.4"/></g>
<g stroke="#0000ff" stroke-width="0.85" fill="none"><circle cx="383.9" cy="558.0" r="3.3"/><path d="M380.3,558.0H387.5M383.9,556.0V560.0"/></g>
<g stroke="#0000ff" stroke-width="0.85" fill="none"><circle cx="386.7" cy="559.8" r="3.3"/><path d="M383.1,559.8H390.3M386.7,557.8V561.8"/></g>
<g stroke="#0000ff" stroke-width="0.85" fill="none"><circle cx="389.5" cy="560.8" r="3.3"/><path d="M385.9,560.8H393.1M389.5,558.8V562.8"/></g>
<g stroke="#0000ff" stroke-width="0.85" fill="none"><circle cx="392.3" cy="561.7" r="3.3"/><path d="M388.7,561.7H395.9M392.3,559.7V563.7"/></g>
<g stroke="#0000ff" stroke-width="0.85" fill="none"><circle cx="395.1" cy="563.8" r="3.3"/><path d="M391.5,563.8H398.7M395.1,561.8V565.8"/></g>
<g stroke="#0000ff" stroke-width="0.85" fill="none"><circle cx="397.9" cy="564.7" r="3.3"/><path d="M394.3,564.7H401.5M397.9,562.7V566.7"/></g>
<g stroke="#0000ff" stroke-width="0.85" fill="none"><circle cx="400.7" cy="565.1" r="3.3"/><path d="M397.1,565.1H404.3M400.7,563.1V567.1"/></g>
<g stroke="#0000ff" stroke-width="0.85" fill="none"><circle cx="403.5" cy="566.9" r="3.3"/><path d="M399.9,566.9H407.1M403.5,564.9V568.9"/></g>
<g stroke="#0000ff" stroke-width="0.85" fill="none"><circle cx="406.3" cy="567.7" r="3.3"/><path d="M402.7,567.7H409.9M406.3,565.7V569.7"/></g>
<g stroke="#0000ff" stroke-width="0.85" fill="none"><circle cx="409.1" cy="569.3" r="3.3"/><path d="M405.5,569.3H412.7M409.1,567.3V571.3"/></g>
<g stroke="#0000ff" stroke-width="0.85" fill="none"><circle cx="411.9" cy="569.9" r="3.3"/><path d="M408.3,569.9H415.5M411.9,567.9V571.9"/></g>
<g stroke="#0000ff" stroke-width="0.85" fill="none"><circle cx="414.7" cy="569.7" r="3.3"/><path d="M411.1,569.7H418.3M414.7,567.7V571.7"/></g>
<g stroke="#0000ff" stroke-width="0.85" fill="none"><circle cx="417.4" cy="571.6" r="3.3"/><path d="M413.8,571.6H421.1M417.4,569.6V573.6"/></g>
<g stroke="#0000ff" stroke-width="0.85" fill="none"><circle cx="420.2" cy="570.1" r="3.3"/><path d="M416.6,570.1H423.8M420.2,568.1V572.1"/></g>
<g stroke="#0000ff" stroke-width="0.85" fill="none"><circle cx="423.0" cy="570.4" r="3.3"/><path d="M419.4,570.4H426.6M423.0,568.4V572.4"/></g>
<g stroke="#0000ff" stroke-width="0.85" fill="none"><circle cx="425.8" cy="569.8" r="3.3"/><path d="M422.2,569.8H429.4M425.8,567.8V571.8"/></g>
<g stroke="#0000ff" stroke-width="0.85" fill="none"><circle cx="428.6" cy="569.0" r="3.3"/><path d="M425.0,569.0H432.2M428.6,567.0V571.0"/></g>
<g stroke="#0000ff" stroke-width="0.85" fill="none"><circle cx="431.4" cy="570.8" r="3.3"/><path d="M427.8,570.8H435.0M431.4,568.8V572.8"/></g>
<g stroke="#0000ff" stroke-width="0.85" fill="none"><circle cx="434.2" cy="568.5" r="3.3"/><path d="M430.6,568.5H437.8M434.2,566.5V570.5"/></g>
<g stroke="#0000ff" stroke-width="0.85" fill="none"><circle cx="437.0" cy="568.8" r="3.3"/><path d="M433.4,568.8H440.6M437.0,566.8V570.8"/></g>
<g stroke="#0000ff" stroke-width="0.85" fill="none"><circle cx="439.8" cy="568.1" r="3.3"/><path d="M436.2,568.1H443.4M439.8,566.1V570.1"/></g>
<g stroke="#0000ff" stroke-width="0.85" fill="none"><circle cx="442.6" cy="565.3" r="3.3"/><path d="M439.0,565.3H446.2M442.6,563.3V567.3"/></g>
<g stroke="#0000ff" stroke-width="0.85" fill="none"><circle cx="445.4" cy="563.4" r="3.3"/><path d="M441.8,563.4H449.0M445.4,561.4V565.4"/></g>
<g stroke="#0000ff" stroke-width="0.85" fill="none"><circle cx="448.2" cy="559.8" r="3.3"/><path d="M444.6,559.8H451.8M448.2,557.8V561.8"/></g>
<g stroke="#0000ff" stroke-width="0.85" fill="none"><circle cx="451.0" cy="558.1" r="3.3"/><path d="M447.4,558.1H454.6M451.0,556.1V560.1"/></g>
<g stroke="#0000ff" stroke-width="0.85" fill="none"><circle cx="456.3" cy="551.8" r="3.3"/><path d="M452.7,551.8H459.9M456.3,549.8V553.8"/></g>
<g stroke="#0000ff" stroke-width="0.85" fill="none"><circle cx="462.7" cy="544.7" r="3.3"/><path d="M459.1,544.7H466.3M462.7,542.7V546.7"/></g>
<g stroke="#0000ff" stroke-width="0.85" fill="none"><circle cx="469.0" cy="535.5" r="3.3"/><path d="M465.4,535.5H472.6M469.0,533.5V537.5"/></g>
<g stroke="#0000ff" stroke-width="0.85" fill="none"><circle cx="474.3" cy="533.8" r="3.3"/><path d="M470.7,533.8H477.9M474.3,531.8V535.8"/></g>
<g stroke="#0000ff" stroke-width="0.85" fill="none"><circle cx="478.9" cy="526.4" r="3.3"/><path d="M475.3,526.4H482.5M478.9,524.4V528.4"/></g>
<g stroke="#0000ff" stroke-width="0.85" fill="none"><circle cx="482.8" cy="520.2" r="3.3"/><path d="M479.2,520.2H486.4M482.8,518.2V522.2"/></g>
<g stroke="#0000ff" stroke-width="0.85" fill="none"><circle cx="486.7" cy="515.5" r="3.3"/><path d="M483.1,515.5H490.3M486.7,513.5V517.5"/></g>
<g stroke="#0000ff" stroke-width="0.85" fill="none"><circle cx="490.5" cy="510.1" r="3.3"/><path d="M486.9,510.1H494.1M490.5,508.1V512.1"/></g>
<g stroke="#0000ff" stroke-width="0.85" fill="none"><circle cx="494.4" cy="508.5" r="3.3"/><path d="M490.8,508.5H498.0M494.4,506.5V510.5"/></g>
<g stroke="#0000ff" stroke-width="0.85" fill="none"><circle cx="499.1" cy="507.0" r="3.3"/><path d="M495.5,507.0H502.7M499.1,505.0V509.0"/></g>
<g stroke="#0000ff" stroke-width="0.85" fill="none"><circle cx="504.2" cy="505.7" r="3.3"/><path d="M500.6,505.7H507.8M504.2,503.7V507.7"/></g>
<g stroke="#0000ff" stroke-width="0.85" fill="none"><circle cx="509.6" cy="490.7" r="3.3"/><path d="M507.4,490.7H511.8M509.6,482.7V498.7"/></g>
<g stroke="#00ff00" stroke-width="0.8" fill="none"><path d="M478.1,453.2H489.8M484.3,433.3V472.9"/><path d="M484.3,450.3L481.4,455.5L487.2,455.5Z" fill="#00ff00" stroke="none"/></g>
<g stroke="#ff00ff" stroke-width="0.8" fill="none"><path d="M486.0,439.8H494.0M490.2,420.9V462.0"/><path d="M490.2,436.9L487.3,442.1L493.1,442.1Z" fill="#ff00ff" stroke="none"/></g>
<g stroke="#ff0000" stroke-width="0.8" fill="none"><path d="M491.3,445.7H506.8M499.1,436.4V474.4"/><path d="M499.1,442.8L496.2,448.0L502.0,448.0Z" fill="#ff0000" stroke="none"/></g>
<g stroke="#000" stroke-width="0.8" fill="none"><path d="M504.5,431.0H520.8M513.5,410.9V457.4"/><path d="M513.5,428.1L510.6,433.3L516.4,433.3Z" fill="#000" stroke="none"/></g>
<g stroke="#00ff00" stroke-width="0.8" fill="none"><path d="M509.9,413.6H524.6M517.7,393.7V459.5"/><path d="M517.7,410.7L514.8,415.9L520.6,415.9Z" fill="#00ff00" stroke="none"/></g>
<g stroke="#ff0000" stroke-width="0.8" fill="none"><path d="M510.0,434.0H527.0M517.0,420.0V446.0"/><path d="M517.0,431.1L514.1,436.3L519.9,436.3Z" fill="#ff0000" stroke="none"/></g>
<g stroke="#0000ff" stroke-width="0.8" fill="none"><path d="M466.5,458.9H537.8M516.6,426.4V501.6"/><path d="M516.6,456.0L513.7,461.2L519.5,461.2Z" fill="#0000ff" stroke="none"/></g>
<g stroke="#00ff00" stroke-width="0.8" fill="none"><path d="M496.0,480.2H510.0M501.1,462.0V502.3"/><path d="M501.1,477.3L498.2,482.5L504.0,482.5Z" fill="#00ff00" stroke="none"/></g>
<g stroke="#000" stroke-width="0.8" fill="none"><path d="M467.3,505.4H491.3M480.9,486.8V524.0"/><path d="M480.9,502.5L478.0,507.7L483.8,507.7Z" fill="#000" stroke="none"/></g>
<g stroke="#ff00ff" stroke-width="0.8" fill="none"><path d="M466.5,528.7H487.4M478.9,519.4V545.0"/><path d="M478.9,525.8L476.0,531.0L481.8,531.0Z" fill="#ff00ff" stroke="none"/></g>
<g stroke="#00ff00" stroke-width="0.8" fill="none"><path d="M523.9,427.1H537.8M531.2,390.0V479.8"/><path d="M531.2,424.2L528.3,429.4L534.1,429.4Z" fill="#00ff00" stroke="none"/></g>
<g stroke="#ff00ff" stroke-width="0.8" fill="none"><path d="M520.0,419.8H537.8M529.6,389.7V458.1"/><path d="M529.6,416.9L526.7,422.1L532.5,422.1Z" fill="#ff00ff" stroke="none"/></g>
<g stroke="#ff0000" stroke-width="0.8" fill="none"><path d="M526.2,409.6H537.8M532.9,388.0V440.0"/><path d="M532.9,406.7L530.0,411.9L535.8,411.9Z" fill="#ff0000" stroke="none"/></g>
<g stroke="#ff00ff" stroke-width="0.8" fill="none"><path d="M486.0,439.5H494.0M489.9,419.6V465.4"/><path d="M489.9,436.6L487.0,441.8L492.8,441.8Z" fill="#ff00ff" stroke="none"/></g>
<g stroke="#00ff00" stroke-width="0.8" fill="none"><path d="M477.9,453.1H489.9M484.3,432.6V473.4"/><path d="M484.3,450.2L481.4,455.4L487.2,455.4Z" fill="#00ff00" stroke="none"/></g>
<path d="M529.2,390V457.5" stroke="#600060" stroke-width="0.9"/>
<g stroke="#00ff00" stroke-width="0.7" fill="none"><rect x="538.3" y="387.7" width="4.8" height="4.8"/><path d="M538.3,390.1H543.1M540.7,381.7V398.7"/></g>
<g stroke="#00ff00" stroke-width="0.7" fill="none"><rect x="549.7" y="366.4" width="4.8" height="4.8"/><path d="M549.7,368.8H554.5M552.1,359.8V377.7"/></g>
<g stroke="#00ff00" stroke-width="0.7" fill="none"><rect x="554.7" y="376.3" width="4.8" height="4.8"/><path d="M554.7,378.7H559.5M557.1,369.8V388.7"/></g>
<g stroke="#00ff00" stroke-width="0.7" fill="none"><rect x="559.9" y="356.4" width="4.8" height="4.8"/><path d="M559.9,358.8H564.7M562.3,349.8V368.8"/></g>
<g stroke="#00ff00" stroke-width="0.7" fill="none"><rect x="564.6" y="365.4" width="4.8" height="4.8"/><path d="M564.6,367.8H569.4M567.0,359.8V378.7"/></g>
<g stroke="#00ff00" stroke-width="0.7" fill="none"><rect x="568.6" y="358.0" width="4.8" height="4.8"/><path d="M568.6,360.4H573.4M571.0,349.8V371.8"/></g>
<g stroke="#00ff00" stroke-width="0.7" fill="none"><rect x="573.6" y="338.9" width="4.8" height="4.8"/><path d="M573.6,341.3H578.4M576.0,326.9V356.8"/></g>
<g stroke="#00ff00" stroke-width="0.7" fill="none"><rect x="578.6" y="341.8" width="4.8" height="4.8"/><path d="M578.6,344.2H583.4M581.0,330.9V358.8"/></g>
<g stroke="#00ff00" stroke-width="0.7" fill="none"><rect x="583.8" y="335.5" width="4.8" height="4.8"/><path d="M583.8,337.9H588.6M586.2,320.9V356.8"/></g>
<g stroke="#00ff00" stroke-width="0.7" fill="none"><rect x="590.6" y="334.9" width="4.8" height="4.8"/><path d="M590.6,337.3H595.4M593.0,323.9V352.8"/></g>
<g stroke="#00ff00" stroke-width="0.7" fill="none"><rect x="607.1" y="383.7" width="4.8" height="4.8"/><path d="M597.5,386.1H618.5M609.5,364.8V410.6"/></g>
<g stroke="#ff00ff" stroke-width="0.7" fill="none"><rect x="559.9" y="368.4" width="4.8" height="4.8"/><path d="M558.0,370.8H566.0M562.3,366.8V379.7"/></g>
<g stroke="#ff00ff" stroke-width="0.7" fill="none"><rect x="574.6" y="389.3" width="4.8" height="4.8"/><path d="M568.6,391.7H584.6M577.0,365.8V425.6"/></g>
<g stroke="#ff00ff" stroke-width="0.7" fill="none"><rect x="594.7" y="371.7" width="4.8" height="4.8"/><path d="M583.6,374.1H607.5M597.1,342.9V413.6"/></g>
<g stroke="#ff00ff" stroke-width="0.7" fill="none"><rect x="544.7" y="423.2" width="4.8" height="4.8"/><path d="M537.7,425.6H554.7M547.1,417.6V439.5"/></g>
<g stroke="#ff00ff" stroke-width="0.7" fill="none"><rect x="508.4" y="458.1" width="4.8" height="4.8"/><path d="M505.0,460.5H516.0M510.8,445.0V473.0"/></g>
<g stroke="#ff0000" stroke-width="0.7" fill="none"><rect x="552.7" y="392.5" width="4.8" height="4.8"/><path d="M548.7,394.9H559.7M555.1,389.7V400.7"/></g>
<g stroke="#ff0000" stroke-width="0.7" fill="none"><rect x="538.3" y="411.2" width="4.8" height="4.8"/><path d="M537.0,413.6H545.0M540.7,405.6V420.6"/></g>
<g stroke="#ff0000" stroke-width="0.7" fill="none"><rect x="562.2" y="397.9" width="4.8" height="4.8"/><path d="M560.0,400.3H569.0M564.6,396.0V405.0"/></g>
<g stroke="#ff0000" stroke-width="0.7" fill="none"><rect x="574.6" y="410.2" width="4.8" height="4.8"/><path d="M568.6,412.6H583.6M577.0,405.0V420.0"/></g>
<g stroke="#ff0000" stroke-width="0.7" fill="none"><rect x="583.2" y="389.3" width="4.8" height="4.8"/><path d="M582.6,391.7H589.6M585.6,372.8V413.6"/></g>
<g stroke="#0000ff" stroke-width="0.7" fill="none"><rect x="560.2" y="398.3" width="4.8" height="4.8"/><path d="M559.0,400.7H566.0M562.6,379.7V419.6"/></g>
<g stroke="#0000ff" stroke-width="0.7" fill="none"><rect x="541.3" y="442.5" width="4.8" height="4.8"/><path d="M537.3,444.9H549.7M543.7,428.6V463.4"/></g>
<g stroke="#0000ff" stroke-width="0.7" fill="none"><rect x="552.7" y="448.1" width="4.8" height="4.8"/><path d="M549.1,450.5H559.7M555.1,431.6V473.4"/></g>
<g stroke="#0000ff" stroke-width="0.7" fill="none"><rect x="576.2" y="445.7" width="4.8" height="4.8"/><path d="M564.6,448.1H588.6M578.6,426.6V473.4"/></g>
<g stroke="#000" stroke-width="0.7" fill="none"><rect x="544.7" y="412.6" width="4.8" height="4.8"/><path d="M536.7,415.0H551.7M547.1,406.6V419.6"/></g>
<g stroke="#000" stroke-width="0.7" fill="none"><rect x="559.9" y="418.0" width="4.8" height="4.8"/><path d="M554.7,420.4H569.2M562.3,413.6V432.6"/></g>
<g stroke="#000" stroke-width="0.7" fill="none"><rect x="574.6" y="406.2" width="4.8" height="4.8"/><path d="M568.6,408.6H583.6M577.0,404.0V413.0"/></g>
<g stroke="#000" stroke-width="0.7" fill="none"><rect x="594.7" y="444.7" width="4.8" height="4.8"/><path d="M584.0,447.1H607.5M597.1,422.6V475.4"/></g>
<g stroke="#000" stroke-width="0.7" fill="none"><rect x="484.3" y="474.3" width="4.8" height="4.8"/><path d="M482.0,476.7H492.0M486.7,470.0V484.0"/></g>
<path d="M169.5,550.7 C171.9,548.9 177.2,545.0 183.9,540.0 C190.6,535.0 200.5,528.3 209.8,520.5 C219.1,512.7 230.7,500.4 239.7,493.0 C248.7,485.6 257.0,480.2 263.6,476.0 C270.2,471.8 273.6,469.8 279.6,467.6 C285.6,465.4 294.2,463.8 299.5,463.0 C304.8,462.2 307.4,462.3 311.5,462.6 C315.6,462.9 318.2,463.6 324.4,464.6 C330.6,465.7 340.6,466.9 348.7,468.9 C356.8,470.9 365.0,474.4 373.1,476.7 C381.2,479.0 389.3,481.1 397.4,482.8 C405.5,484.5 416.0,486.1 421.8,486.8 C427.6,487.5 428.8,487.2 432.0,487.0 C435.2,486.8 437.7,486.5 441.0,485.8 C444.3,485.1 448.2,483.8 451.9,482.6 C455.5,481.4 459.2,480.1 462.9,478.4 C466.5,476.7 470.1,474.8 473.8,472.6 C477.5,470.5 481.2,467.9 484.8,465.5 C488.4,463.1 492.1,460.9 495.7,458.3 C499.3,455.7 503.0,452.8 506.7,450.1 C510.4,447.4 513.9,444.5 517.6,441.9 C521.3,439.2 524.0,437.5 528.9,434.2 C533.8,430.9 541.9,425.4 547.1,421.8 C552.3,418.2 554.5,416.5 560.0,412.5 C565.5,408.5 573.2,402.9 579.9,397.6 C586.5,392.3 593.2,386.1 599.9,380.6 C606.5,375.1 613.2,369.7 619.8,364.7 C626.4,359.7 633.1,355.2 639.7,350.7 C646.4,346.2 653.1,341.8 659.7,337.8 C666.4,333.8 673.0,330.3 679.6,326.8 C686.2,323.3 694.5,319.2 699.5,316.8 C704.5,314.4 706.6,313.4 709.9,312.1 C713.2,310.9 716.2,310.2 719.5,309.3 C722.8,308.4 726.5,307.2 729.9,306.7 C733.3,306.2 736.5,305.9 739.8,306.1 C743.1,306.3 746.5,306.8 749.8,307.7 C753.1,308.6 756.5,310.0 759.8,311.7 C763.1,313.4 766.4,315.4 769.7,317.7 C773.0,320.0 776.4,322.6 779.7,325.6 C783.0,328.6 786.4,331.8 789.7,335.6 C793.0,339.4 796.3,344.0 799.6,348.6 C802.9,353.2 806.6,358.3 809.6,363.5 C812.6,368.7 814.4,372.5 817.8,380.0 C821.2,387.5 825.6,398.0 829.8,408.6 C834.0,419.2 839.2,432.7 843.1,443.8 C847.0,454.9 851.4,469.8 853.1,475.0" fill="none" stroke="#000" stroke-width="3.6" stroke-linejoin="round"/>
</g>
<g fill="none" stroke="#000" stroke-width="0.75" stroke-linecap="round" stroke-linejoin="round"><path d="M149.41,769.36L168.40,769.36M176.07,760.92L177.12,761.97L176.07,763.02L175.02,761.97L175.02,760.92L176.07,758.81L177.12,757.75L180.29,756.70L184.51,756.70L187.68,757.75L188.73,759.86L188.73,763.02L187.68,765.13L184.51,766.19L181.34,766.19M184.51,756.70L186.62,757.75L187.68,759.86L187.68,763.02L186.62,765.13L184.51,766.19M184.51,766.19L186.62,767.25L188.73,769.36L189.78,771.47L189.78,774.63L188.73,776.74L187.68,777.80L184.51,778.85L180.29,778.85L177.12,777.80L176.07,776.74L175.02,774.63L175.02,773.58L176.07,772.52L177.12,773.58L176.07,774.63M187.68,768.30L188.73,771.47L188.73,774.63L187.68,776.74L186.62,777.80L184.51,778.85M234.91,769.36L253.90,769.36M261.57,760.92L262.62,761.97L261.57,763.02L260.51,761.97L260.51,760.92L261.57,758.81L262.62,757.75L265.79,756.70L270.01,756.70L273.17,757.75L274.23,758.81L275.28,760.92L275.28,763.02L274.23,765.13L271.06,767.25L265.79,769.36L263.68,770.41L261.57,772.52L260.51,775.69L260.51,778.85M270.01,756.70L272.12,757.75L273.17,758.81L274.23,760.92L274.23,763.02L273.17,765.13L270.01,767.25L265.79,769.36M260.51,776.74L261.57,775.69L263.68,775.69L268.95,777.80L272.12,777.80L274.23,776.74L275.28,775.69M263.68,775.69L268.95,778.85L273.17,778.85L274.23,777.80L275.28,775.69L275.28,773.58M320.40,769.36L339.39,769.36M349.18,760.92L351.29,759.86L354.45,756.70L354.45,778.85M353.40,757.75L353.40,778.85M349.18,778.85L358.67,778.85M424.94,756.70L421.78,757.75L419.67,760.92L418.62,766.19L418.62,769.36L419.67,774.63L421.78,777.80L424.94,778.85L427.06,778.85L430.22,777.80L432.33,774.63L433.38,769.36L433.38,766.19L432.33,760.92L430.22,757.75L427.06,756.70L424.94,756.70M424.94,756.70L422.83,757.75L421.78,758.81L420.73,760.92L419.67,766.19L419.67,769.36L420.73,774.63L421.78,776.74L422.83,777.80L424.94,778.85M427.06,778.85L429.17,777.80L430.22,776.74L431.27,774.63L432.33,769.36L432.33,766.19L431.27,760.92L430.22,758.81L429.17,757.75L427.06,756.70M507.28,760.92L509.39,759.86L512.55,756.70L512.55,778.85M511.50,757.75L511.50,778.85M507.28,778.85L516.77,778.85M590.67,760.92L591.73,761.97L590.67,763.02L589.62,761.97L589.62,760.92L590.67,758.81L591.73,757.75L594.89,756.70L599.11,756.70L602.27,757.75L603.33,758.81L604.38,760.92L604.38,763.02L603.33,765.13L600.16,767.25L594.89,769.36L592.78,770.41L590.67,772.52L589.62,775.69L589.62,778.85M599.11,756.70L601.22,757.75L602.27,758.81L603.33,760.92L603.33,763.02L602.27,765.13L599.11,767.25L594.89,769.36M589.62,776.74L590.67,775.69L592.78,775.69L598.05,777.80L601.22,777.80L603.33,776.74L604.38,775.69M592.78,775.69L598.05,778.85L602.27,778.85L603.33,777.80L604.38,775.69L604.38,773.58M676.17,760.92L677.23,761.97L676.17,763.02L675.12,761.97L675.12,760.92L676.17,758.81L677.23,757.75L680.39,756.70L684.61,756.70L687.77,757.75L688.83,759.86L688.83,763.02L687.77,765.13L684.61,766.19L681.45,766.19M684.61,756.70L686.72,757.75L687.77,759.86L687.77,763.02L686.72,765.13L684.61,766.19M684.61,766.19L686.72,767.25L688.83,769.36L689.88,771.47L689.88,774.63L688.83,776.74L687.77,777.80L684.61,778.85L680.39,778.85L677.23,777.80L676.17,776.74L675.12,774.63L675.12,773.58L676.17,772.52L677.23,773.58L676.17,774.63M687.77,768.30L688.83,771.47L688.83,774.63L687.77,776.74L686.72,777.80L684.61,778.85M770.11,758.81L770.11,778.85M771.16,756.70L771.16,778.85M771.16,756.70L759.56,772.52L776.44,772.52M766.95,778.85L774.33,778.85M848.23,756.70L846.12,767.25M846.12,767.25L848.23,765.13L851.39,764.08L854.55,764.08L857.72,765.13L859.83,767.25L860.88,770.41L860.88,772.52L859.83,775.69L857.72,777.80L854.55,778.85L851.39,778.85L848.23,777.80L847.17,776.74L846.12,774.63L846.12,773.58L847.17,772.52L848.23,773.58L847.17,774.63M854.55,764.08L856.66,765.13L858.77,767.25L859.83,770.41L859.83,772.52L858.77,775.69L856.66,777.80L854.55,778.85M848.23,756.70L858.77,756.70M848.23,757.75L853.50,757.75L858.77,756.70M107.10,55.76L126.09,55.76M146.93,50.48L145.88,53.65L143.76,55.76L140.60,56.81L139.54,56.81L136.38,55.76L134.27,53.65L133.22,50.48L133.22,49.42L134.27,46.26L136.38,44.15L139.54,43.09L141.66,43.09L144.82,44.15L146.93,46.26L147.98,49.42L147.98,55.76L146.93,59.98L145.88,62.09L143.76,64.19L140.60,65.25L137.44,65.25L135.32,64.19L134.27,62.09L134.27,61.03L135.32,59.98L136.38,61.03L135.32,62.09M139.54,56.81L137.44,55.76L135.32,53.65L134.27,50.48L134.27,49.42L135.32,46.26L137.44,44.15L139.54,43.09M141.66,43.09L143.76,44.15L145.88,46.26L146.93,49.42L146.93,55.76L145.88,59.98L144.82,62.09L142.71,64.19L140.60,65.25M86.91,397.75L105.90,397.75M115.38,389.31L117.49,388.26L120.66,385.10L120.66,407.25M119.60,386.15L119.60,407.25M115.38,407.25L124.88,407.25M139.75,385.10L136.58,386.15L134.47,389.31L133.42,394.59L133.42,397.75L134.47,403.03L136.58,406.19L139.75,407.25L141.86,407.25L145.02,406.19L147.13,403.03L148.19,397.75L148.19,394.59L147.13,389.31L145.02,386.15L141.86,385.10L139.75,385.10M139.75,385.10L137.64,386.15L136.58,387.20L135.53,389.31L134.47,394.59L134.47,397.75L135.53,403.03L136.58,405.14L137.64,406.19L139.75,407.25M141.86,407.25L143.97,406.19L145.02,405.14L146.08,403.03L147.13,397.75L147.13,394.59L146.08,389.31L145.02,387.20L143.97,386.15L141.86,385.10M86.80,739.75L105.80,739.75M115.58,731.32L117.69,730.26L120.86,727.10L120.86,749.25M119.80,728.15L119.80,749.25M115.58,749.25L125.08,749.25M136.08,731.32L138.19,730.26L141.36,727.10L141.36,749.25M140.30,728.15L140.30,749.25M136.08,749.25L145.58,749.25M404.44,800.89L404.44,823.05M405.50,800.89L405.50,823.05M401.27,800.89L405.50,800.89M401.27,823.05L408.66,823.05M419.70,808.28L416.54,809.33L414.43,811.44L413.38,814.61L413.38,816.72L414.43,819.88L416.54,822.00L419.70,823.05L421.81,823.05L424.98,822.00L427.09,819.88L428.14,816.72L428.14,814.61L427.09,811.44L424.98,809.33L421.81,808.28L419.70,808.28M419.70,808.28L417.59,809.33L415.49,811.44L414.43,814.61L414.43,816.72L415.49,819.88L417.59,822.00L419.70,823.05M421.81,823.05L423.93,822.00L426.03,819.88L427.09,816.72L427.09,814.61L426.03,811.44L423.93,809.33L421.81,808.28M438.70,808.28L436.59,809.33L435.54,810.39L434.49,812.50L434.49,814.61L435.54,816.72L436.59,817.77L438.70,818.83L440.81,818.83L442.93,817.77L443.98,816.72L445.03,814.61L445.03,812.50L443.98,810.39L442.93,809.33L440.81,808.28L438.70,808.28M436.59,809.33L435.54,811.44L435.54,815.66L436.59,817.77M442.93,817.77L443.98,815.66L443.98,811.44L442.93,809.33M443.98,810.39L445.03,809.33L447.14,808.28L447.14,809.33L445.03,809.33M435.54,816.72L434.49,817.77L433.43,819.88L433.43,820.94L434.49,823.05L437.65,824.10L442.93,824.10L446.09,825.16L447.14,826.21M433.43,820.94L434.49,822.00L437.65,823.05L442.93,823.05L446.09,824.10L447.14,826.21L447.14,827.27L446.09,829.38L442.93,830.43L436.59,830.43L433.43,829.38L432.38,827.27L432.38,826.21L433.43,824.10L436.59,823.05M477.46,796.67L475.35,798.78L473.24,801.95L471.13,806.17L470.07,811.44L470.07,815.66L471.13,820.94L473.24,825.16L475.35,828.32L477.46,830.43M475.35,798.78L473.24,803.00L472.19,806.17L471.13,811.44L471.13,815.66L472.19,820.94L473.24,824.10L475.35,828.32M486.24,800.89L486.24,823.05M487.30,800.89L487.30,823.05M493.62,807.22L493.62,815.66M483.07,800.89L499.95,800.89L499.95,807.22L498.90,800.89M487.30,811.44L493.62,811.44M483.07,823.05L499.95,823.05L499.95,816.72L498.90,823.05M522.17,796.67L522.17,830.43M523.23,796.67L523.23,830.43M522.17,796.67L529.56,796.67M522.17,830.43L529.56,830.43M538.54,800.89L538.54,823.05M539.60,800.89L539.60,823.05M550.14,808.28L539.60,818.83M544.87,814.61L551.20,823.05M543.82,814.61L550.14,823.05M535.38,800.89L539.60,800.89M546.98,808.28L553.31,808.28M535.38,823.05L542.76,823.05M546.98,823.05L553.31,823.05M556.73,814.61L569.39,814.61L569.39,812.50L568.33,810.39L567.28,809.33L565.17,808.28L562.00,808.28L558.84,809.33L556.73,811.44L555.67,814.61L555.67,816.72L556.73,819.88L558.84,822.00L562.00,823.05L564.11,823.05L567.28,822.00L569.39,819.88M568.33,814.61L568.33,811.44L567.28,809.33M562.00,808.28L559.89,809.33L557.78,811.44L556.73,814.61L556.73,816.72L557.78,819.88L559.89,822.00L562.00,823.05M574.19,800.89L581.57,823.05M575.24,800.89L581.57,819.88M588.96,800.89L581.57,823.05M572.08,800.89L578.41,800.89M584.74,800.89L591.07,800.89M604.11,796.67L604.11,830.43M605.16,796.67L605.16,830.43M597.77,796.67L605.16,796.67M597.77,830.43L605.16,830.43M611.17,796.67L613.28,798.78L615.39,801.95L617.50,806.17L618.56,811.44L618.56,815.66L617.50,820.94L615.39,825.16L613.28,828.32L611.17,830.43M613.28,798.78L615.39,803.00L616.45,806.17L617.50,811.44L617.50,815.66L616.45,820.94L615.39,824.10L613.28,828.32"/>
<path transform="translate(54.95,584) rotate(-90)" d="M3.54,-22.15L3.54,0.00M4.59,-22.15L4.59,0.00M0.38,-22.15L4.59,-22.15M0.38,0.00L7.76,0.00M19.11,-14.77L15.94,-13.71L13.83,-11.60L12.78,-8.44L12.78,-6.33L13.83,-3.17L15.94,-1.05L19.11,0.00L21.21,0.00L24.38,-1.05L26.49,-3.17L27.55,-6.33L27.55,-8.44L26.49,-11.60L24.38,-13.71L21.21,-14.77L19.11,-14.77M19.11,-14.77L17.00,-13.71L14.89,-11.60L13.83,-8.44L13.83,-6.33L14.89,-3.17L17.00,-1.05L19.11,0.00M21.21,0.00L23.32,-1.05L25.43,-3.17L26.49,-6.33L26.49,-8.44L25.43,-11.60L23.32,-13.71L21.21,-14.77M38.60,-14.77L36.49,-13.71L35.44,-12.66L34.38,-10.55L34.38,-8.44L35.44,-6.33L36.49,-5.27L38.60,-4.22L40.71,-4.22L42.82,-5.27L43.88,-6.33L44.93,-8.44L44.93,-10.55L43.88,-12.66L42.82,-13.71L40.71,-14.77L38.60,-14.77M36.49,-13.71L35.44,-11.60L35.44,-7.38L36.49,-5.27M42.82,-5.27L43.88,-7.38L43.88,-11.60L42.82,-13.71M43.88,-12.66L44.93,-13.71L47.04,-14.77L47.04,-13.71L44.93,-13.71M35.44,-6.33L34.38,-5.27L33.33,-3.17L33.33,-2.11L34.38,0.00L37.55,1.05L42.82,1.05L45.99,2.11L47.04,3.17M33.33,-2.11L34.38,-1.05L37.55,0.00L42.82,0.00L45.99,1.05L47.04,3.17L47.04,4.22L45.99,6.33L42.82,7.38L36.49,7.38L33.33,6.33L32.27,4.22L32.27,3.17L33.33,1.05L36.49,0.00M76.76,-26.38L74.65,-24.26L72.54,-21.10L70.43,-16.88L69.38,-11.60L69.38,-7.38L70.43,-2.11L72.54,2.11L74.65,5.27L76.76,7.38M74.65,-24.26L72.54,-20.04L71.48,-16.88L70.43,-11.60L70.43,-7.38L71.48,-2.11L72.54,1.05L74.65,5.27M86.54,-14.77L84.43,0.00M87.59,-14.77L86.54,-8.44L85.48,-3.17L84.43,0.00M98.15,-14.77L97.09,-10.55L94.98,-6.33M99.20,-14.77L98.15,-11.60L97.09,-9.49L94.98,-6.33L92.87,-4.22L89.70,-2.11L87.59,-1.05L84.43,0.00M83.38,-14.77L87.59,-14.77M105.84,-22.15L105.84,0.00M106.89,-22.15L106.89,0.00M113.23,-15.82L113.23,-7.38M102.67,-22.15L119.56,-22.15L119.56,-15.82L118.50,-22.15M106.89,-11.60L113.23,-11.60M102.67,0.00L110.06,0.00M153.47,-26.38L153.47,7.38M154.53,-26.38L154.53,7.38M153.47,-26.38L160.86,-26.38M153.47,7.38L160.86,7.38M167.93,-8.44L180.59,-8.44L180.59,-10.55L179.53,-12.66L178.48,-13.71L176.37,-14.77L173.20,-14.77L170.04,-13.71L167.93,-11.60L166.88,-8.44L166.88,-6.33L167.93,-3.17L170.04,-1.05L173.20,0.00L175.31,0.00L178.48,-1.05L180.59,-3.17M179.53,-8.44L179.53,-11.60L178.48,-13.71M173.20,-14.77L171.09,-13.71L168.98,-11.60L167.93,-8.44L167.93,-6.33L168.98,-3.17L171.09,-1.05L173.20,0.00M188.84,-14.77L188.84,0.00M189.90,-14.77L189.90,0.00M189.90,-8.44L190.95,-11.60L193.06,-13.71L195.17,-14.77L198.34,-14.77L199.39,-13.71L199.39,-12.66L198.34,-11.60L197.28,-12.66L198.34,-13.71M185.68,-14.77L189.90,-14.77M185.68,0.00L193.06,0.00M209.10,-14.77L207.00,-13.71L205.94,-12.66L204.88,-10.55L204.88,-8.44L205.94,-6.33L207.00,-5.27L209.10,-4.22L211.22,-4.22L213.32,-5.27L214.38,-6.33L215.44,-8.44L215.44,-10.55L214.38,-12.66L213.32,-13.71L211.22,-14.77L209.10,-14.77M207.00,-13.71L205.94,-11.60L205.94,-7.38L207.00,-5.27M213.32,-5.27L214.38,-7.38L214.38,-11.60L213.32,-13.71M214.38,-12.66L215.44,-13.71L217.54,-14.77L217.54,-13.71L215.44,-13.71M205.94,-6.33L204.88,-5.27L203.83,-3.17L203.83,-2.11L204.88,0.00L208.05,1.05L213.32,1.05L216.49,2.11L217.54,3.17M203.83,-2.11L204.88,-1.05L208.05,0.00L213.32,0.00L216.49,1.05L217.54,3.17L217.54,4.22L216.49,6.33L213.32,7.38L207.00,7.38L203.83,6.33L202.78,4.22L202.78,3.17L203.83,1.05L207.00,0.00M241.87,-26.38L222.88,7.38M258.03,-11.60L256.98,-10.55L258.03,-9.49L259.09,-10.55L259.09,-11.60L256.98,-13.71L254.87,-14.77L251.70,-14.77L248.54,-13.71L246.43,-11.60L245.38,-8.44L245.38,-6.33L246.43,-3.17L248.54,-1.05L251.70,0.00L253.81,0.00L256.98,-1.05L259.09,-3.17M251.70,-14.77L249.59,-13.71L247.48,-11.60L246.43,-8.44L246.43,-6.33L247.48,-3.17L249.59,-1.05L251.70,0.00M267.44,-14.77L267.44,0.00M268.49,-14.77L268.49,0.00M268.49,-11.60L270.60,-13.71L273.77,-14.77L275.88,-14.77L279.04,-13.71L280.10,-11.60L280.10,0.00M275.88,-14.77L277.99,-13.71L279.04,-11.60L279.04,0.00M280.10,-11.60L282.21,-13.71L285.37,-14.77L287.48,-14.77L290.65,-13.71L291.70,-11.60L291.70,0.00M287.48,-14.77L289.59,-13.71L290.65,-11.60L290.65,0.00M264.27,-14.77L268.49,-14.77M264.27,0.00L271.66,0.00M275.88,0.00L283.26,0.00M287.48,0.00L294.87,0.00M329.67,-26.38L310.68,7.38M344.42,-12.66L345.48,-14.77L345.48,-10.55L344.42,-12.66L343.37,-13.71L341.26,-14.77L337.04,-14.77L334.93,-13.71L333.88,-12.66L333.88,-10.55L334.93,-9.49L337.04,-8.44L342.31,-6.33L344.42,-5.27L345.48,-4.22M333.88,-11.60L334.93,-10.55L337.04,-9.49L342.31,-7.38L344.42,-6.33L345.48,-5.27L345.48,-2.11L344.42,-1.05L342.31,0.00L338.09,0.00L335.98,-1.05L334.93,-2.11L333.88,-4.22L333.88,0.00L334.93,-2.11M358.11,-26.38L358.11,7.38M359.16,-26.38L359.16,7.38M351.77,-26.38L359.16,-26.38M351.77,7.38L359.16,7.38M364.88,-26.38L366.99,-24.26L369.10,-21.10L371.21,-16.88L372.26,-11.60L372.26,-7.38L371.21,-2.11L369.10,2.11L366.99,5.27L364.88,7.38M366.99,-24.26L369.10,-20.04L370.15,-16.88L371.21,-11.60L371.21,-7.38L370.15,-2.11L369.10,1.05L366.99,5.27M124.94,0.64L123.63,9.80M125.59,0.64L124.94,4.57L124.28,7.84L123.63,9.80M132.13,0.64L131.48,3.26L130.17,5.88M132.79,0.64L132.13,2.60L131.48,3.91L130.17,5.88L128.86,7.18L126.90,8.49L125.59,9.15L123.63,9.80M122.97,0.64L125.59,0.64M298.53,-20.82L299.18,-20.17L298.53,-19.51L297.88,-20.17L297.88,-20.82L298.53,-22.13L299.18,-22.78L301.15,-23.44L303.76,-23.44L305.72,-22.78L306.38,-22.13L307.03,-20.82L307.03,-19.51L306.38,-18.20L304.42,-16.90L301.15,-15.59L299.84,-14.93L298.53,-13.62L297.88,-11.66L297.88,-9.70M303.76,-23.44L305.07,-22.78L305.72,-22.13L306.38,-20.82L306.38,-19.51L305.72,-18.20L303.76,-16.90L301.15,-15.59M297.88,-11.01L298.53,-11.66L299.84,-11.66L303.11,-10.35L305.07,-10.35L306.38,-11.01L307.03,-11.66M299.84,-11.66L303.11,-9.70L305.72,-9.70L306.38,-10.35L307.03,-11.66L307.03,-12.97"/></g>
<g class="leg" filter="url(#idf)"><text x="366.4" y="224.9" fill="#000">Period #1</text>
<text x="366.4" y="258.8" fill="#ff0000">Period #2</text>
<text x="366.4" y="292.7" fill="#ff00ff">Period #3</text>
<text x="366.4" y="326.6" fill="#0000ff">Period #4</text>
<text x="366.4" y="360.5" fill="#00ff00">Period #5</text></g>
</svg>
</body></html>
